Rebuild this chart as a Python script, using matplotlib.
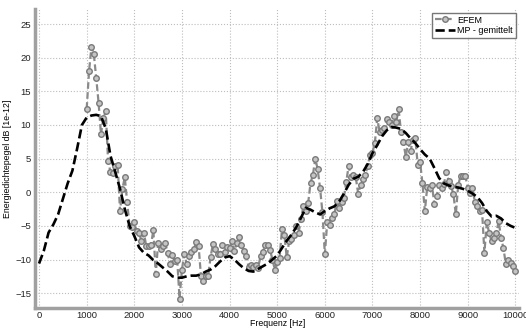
import numpy as np
import matplotlib
matplotlib.use("Agg")
import matplotlib.pyplot as plt

plt.rcParams['font.family'] = ['Liberation Sans', 'DejaVu Sans']

# EFEM: 50 Hz steps from 1000 to 10000 Hz
efem_f = np.arange(1000, 10001, 50)
efem_db = [
    12.4, 18.0, 21.6, 20.5, 17.0, 13.3, 8.6, 11.1, 12.0, 4.6,
    3.0, 2.8, 3.9, 4.1, -2.8, 0.5, 2.2, -1.5, -5.0, -5.2,
    -4.5, -5.8, -6.0, -7.3, -6.0, -8.0, -8.0, -7.9, -5.6, -12.2,
    -7.5, -8.5, -8.0, -7.5, -9.0, -10.7, -9.4, -10.2, -10.0, -15.8,
    -11.5, -9.2, -10.7, -9.5, -8.9, -8.5, -7.4, -8.0, -12.5, -13.2,
    -12.5, -12.5, -9.7, -7.7, -8.5, -9.2, -9.2, -7.8, -8.9, -8.2,
    -8.3, -7.3, -8.8, -7.5, -6.6, -7.8, -8.8, -9.5, -11.1, -10.8,
    -11.1, -10.8, -11.2, -9.5, -8.9, -7.8, -7.8, -8.6, -10.0, -11.5,
    -10.4, -9.8, -5.5, -6.3, -9.7, -7.3, -7.0, -6.3, -5.0, -6.0,
    -4.0, -2.1, -2.8, -1.6, 1.4, 2.6, 5.0, 3.4, 0.6, -3.0,
    -9.2, -4.5, -4.8, -3.8, -3.3, -1.3, -2.3, -1.5, -0.8, 1.5,
    3.9, 2.2, 2.5, 2.2, -0.2, 1.0, 2.0, 2.6, 3.9, 5.6,
    5.9, 7.3, 11.0, 9.0, 9.3, 9.6, 10.9, 10.5, 10.0, 11.4,
    10.5, 12.3, 8.9, 7.4, 5.3, 7.4, 6.1, 7.8, 8.0, 4.1,
    4.5, 1.3, -2.8, 0.8, 0.7, 1.0, -1.8, -0.6, 1.1, 0.7,
    1.2, 3.0, 1.7, 0.9, -0.3, -3.3, 1.1, 2.4, 2.4, 2.4,
    0.7, -0.1, 0.7, -1.5, -2.1, -2.8, -2.6, -9.0, -4.5, -6.0,
    -7.3, -6.8, -6.1, -4.3, -6.8, -8.3, -10.7, -10.0, -10.5, -11.0,
    -11.7,
]

# MP - gemittelt: 100 Hz steps from 0 to 10000 Hz
mp_f = np.arange(0, 10001, 100)
mp_db = [
    -10.6, -8.7, -6.0, -4.8, -3.3, -1.0, 1.3, 3.2, 6.5, 10.0,
    11.1, 11.4, 11.5, 11.3, 9.5, 5.4, 3.0, 0.5, -2.5, -5.0,
    -6.5, -8.2, -9.0, -9.4, -10.1, -10.6, -11.2, -11.8, -12.5, -12.7,
    -12.7, -12.5, -12.4, -12.4, -12.2, -11.8, -11.5, -11.0, -10.3, -9.7,
    -9.5, -10.0, -10.7, -11.3, -11.7, -11.8, -11.4, -11.0, -10.6, -10.0,
    -9.4, -8.3, -7.2, -6.3, -5.2, -3.8, -2.3, -2.6, -3.0, -3.3,
    -2.8, -2.4, -2.1, -1.4, -0.2, 1.1, 2.0, 2.3, 3.0, 4.2,
    5.8, 7.0, 8.3, 9.2, 9.7, 9.6, 9.4, 8.8, 8.0, 7.3,
    6.4, 5.6, 5.0, 3.6, 2.1, 1.3, 1.0, 0.8, 0.7, 0.5,
    0.2, -0.2, -0.7, -1.6, -2.8, -3.6, -3.5, -3.9, -4.6, -5.0,
    -5.3,
]

fig = plt.figure(figsize=(5.26, 3.29), dpi=100)
ax = fig.add_axes([0.067, 0.064, 0.92, 0.908])

ax.plot(efem_f, efem_db, color='#8a8a8a', linestyle='--', dashes=(3, 1.5),
        linewidth=1.6, marker='o', markersize=4,
        markerfacecolor='#c4c4c4', markeredgecolor='#7a7a7a',
        markeredgewidth=1.0, label='EFEM')
ax.plot(mp_f, mp_db, color='black', linestyle='--', dashes=(3.5, 1.5),
        linewidth=1.9, label='MP - gemittelt')

ax.set_xlim(-80, 10080)
ax.set_ylim(-17.2, 27.2)
ax.set_xticks(np.arange(0, 10001, 1000))
ax.set_yticks(np.arange(-15, 26, 5))
ax.grid(True, color='#bdbdbd', linestyle=':', linewidth=0.8)

for s in ['top', 'right']:
    ax.spines[s].set_visible(False)
for s in ['left', 'bottom']:
    ax.spines[s].set_color('#a0a0a0')
    ax.spines[s].set_linewidth(2.5)
ax.tick_params(length=0, labelsize=6.8, colors='#222222')
ax.tick_params(axis='x', pad=2)
ax.tick_params(axis='y', pad=3)

ax.set_xlabel('Frequenz [Hz]', fontsize=6.3)
ax.set_ylabel('Energiedichtepegel dB [1e-12]', fontsize=6.3)
ax.xaxis.set_label_coords(0.5, -0.036)
ax.yaxis.set_label_coords(-0.047, 0.5)

leg = ax.legend(loc='upper right', fontsize=6.5, frameon=True, fancybox=False,
                borderpad=0.3, handlelength=2.2, handletextpad=0.3,
                labelspacing=0.2, borderaxespad=0.4)
leg.get_frame().set_edgecolor('#555555')
leg.get_frame().set_linewidth(1.0)

fig.savefig('out.png', dpi=100)
